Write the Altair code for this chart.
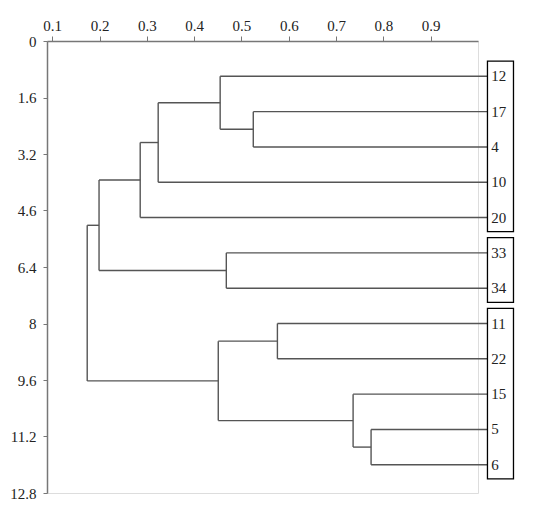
import altair as alt
import pandas as pd

# ---- data ----
leaf_names = ["12", "17", "4", "10", "20", "33", "34", "11", "22", "15", "5", "6"]
leaf_pos = [1, 2, 3, 4, 5, 6, 7, 8, 9, 10, 11, 12]
leaf_end = 1.02

# merges: (child_a, child_b, height); leaves referenced by name, nodes by "n#"
merge_a = ["17", "12", "n2", "n3", "33", "n4", "11", "5", "15", "n7", "n6"]
merge_b = ["4", "n1", "10", "20", "34", "n5", "22", "6", "n8", "n9", "n10"]
merge_h = [0.525, 0.455, 0.324, 0.286, 0.468, 0.199, 0.576, 0.774, 0.736, 0.451, 0.174]

groups_first = ["12", "33", "11"]
groups_last = ["20", "34", "6"]

x_ticks = [0.1, 0.2, 0.3, 0.4, 0.5, 0.6, 0.7, 0.8, 0.9]
y_ticks = [0, 1.6, 3.2, 4.8, 6.4, 8, 9.6, 11.2, 12.8]
y_tick_labels = ["0", "1.6", "3.2", "4.6", "6.4", "8", "9.6", "11.2", "12.8"]

# ---- dendrogram layout ----
ypos = {n: p for n, p in zip(leaf_names, leaf_pos)}
xpos = {n: leaf_end for n in leaf_names}
parent_h = {}
for i, (a, b, h) in enumerate(zip(merge_a, merge_b, merge_h)):
    node = f"n{i+1}"
    ypos[node] = (ypos[a] + ypos[b]) / 2
    xpos[node] = h
    parent_h[a] = h
    parent_h[b] = h

segs = []
for i, (a, b, h) in enumerate(zip(merge_a, merge_b, merge_h)):
    segs.append({"x": h, "x2": h, "y": ypos[a], "y2": ypos[b]})
for child, ph in parent_h.items():
    segs.append({"x": ph, "x2": xpos[child], "y": ypos[child], "y2": ypos[child]})
seg_df = pd.DataFrame(segs)

leaf_df = pd.DataFrame({"name": leaf_names, "y": leaf_pos, "x": [leaf_end + 0.008] * len(leaf_names)})
box_df = pd.DataFrame({
    "x": [leaf_end] * 3,
    "x2": [1.075] * 3,
    "y": [ypos[f] - 0.43 for f in groups_first],
    "y2": [ypos[l] + 0.4 for l in groups_last],
})

label_expr = " : ".join(
    [f"datum.value == {v} ? '{t}'" for v, t in zip(y_ticks, y_tick_labels)] + ["datum.label"]
)

FONT = "Liberation Serif"
xscale = alt.Scale(domain=[0.089, 1.0], nice=False, zero=False)
yscale = alt.Scale(domain=[0, 12.8], reverse=True, nice=False, zero=False)

xaxis = alt.Axis(orient="top", values=x_ticks, format=".1f", title=None, grid=False,
                 labelFont=FONT, labelFontSize=15, labelColor="#222", tickSize=5,
                 tickColor="#777", domainColor="#777", domainWidth=1.5, labelPadding=3)
yaxis = alt.Axis(values=y_ticks, labelExpr=label_expr, title=None, grid=False,
                 labelFont=FONT, labelFontSize=15, labelColor="#222", tickSize=4,
                 tickColor="#777", domainColor="#777", domainWidth=1.5, labelPadding=7)

lines = alt.Chart(seg_df).mark_rule(color="#555", strokeWidth=1.4).encode(
    x=alt.X("x:Q", scale=xscale, axis=xaxis),
    x2="x2:Q",
    y=alt.Y("y:Q", scale=yscale, axis=yaxis),
    y2="y2:Q",
)

boxes = alt.Chart(box_df).mark_rect(fillOpacity=0, stroke="black", strokeWidth=1.3).encode(
    x=alt.X("x:Q", scale=xscale), x2="x2:Q",
    y=alt.Y("y:Q", scale=yscale), y2="y2:Q",
)

labels = alt.Chart(leaf_df).mark_text(align="left", baseline="middle", font=FONT,
                                      fontSize=15, color="#222").encode(
    x=alt.X("x:Q", scale=xscale),
    y=alt.Y("y:Q", scale=yscale),
    text="name:N",
)

chart = alt.layer(lines, boxes, labels).properties(
    width=431, height=452,
    autosize=alt.AutoSizeParams(type="none"),
    padding={"left": 39, "top": 33, "right": 40, "bottom": 20},
).configure_view(stroke=None).configure(background="white")

chart.save("out.html", embed_options={"renderer": "svg", "actions": False})
